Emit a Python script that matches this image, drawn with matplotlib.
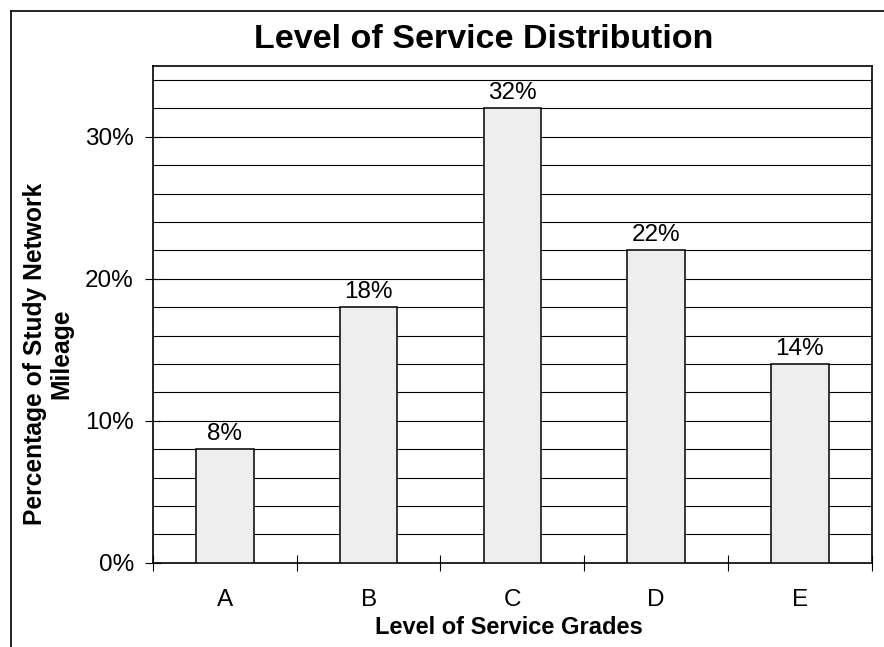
import matplotlib
matplotlib.use("Agg")
import matplotlib.pyplot as plt
from matplotlib.lines import Line2D
import numpy as np

categories = ["A", "B", "C", "D", "E"]
values = [8, 18, 32, 22, 14]
ytick_vals = [0, 10, 20, 30]
ytick_labels = ["0%", "10%", "20%", "30%"]

plt.rcParams['font.family'] = ['Liberation Sans', 'DejaVu Sans']

W, H = 884, 647
fig = plt.figure(figsize=(W / 100, H / 100), dpi=100)
fig.patch.set_facecolor("white")

def fx(px):
    return px / W

def fy(py):
    return 1 - py / H

ax = fig.add_axes([fx(153), fy(562.7), fx(871.7) - fx(153), fy(65.7) - fy(562.7)])

x = np.arange(len(categories))
ax.set_xlim(-0.5, len(categories) - 0.5)
ax.set_ylim(0, 35)

# gridlines every 2%
for g in range(2, 35, 2):
    ax.axhline(g, color="black", lw=0.8, zorder=1)

bars = ax.bar(x, values, width=0.4, color="#EEEEEE", edgecolor="black", linewidth=1.1, zorder=3)

for xi, v in zip(x, values):
    ax.annotate(f"{v}%", (xi, v), xytext=(0, 3), textcoords="offset points",
                ha="center", va="bottom", fontsize=17.5, zorder=4)

for s in ax.spines.values():
    s.set_linewidth(1.2)
    s.set_color("black")

ax.set_yticks(ytick_vals)
ax.set_yticklabels(ytick_labels, fontsize=17.5)
ax.tick_params(axis="y", direction="inout", length=11.5, width=0.8, pad=8)

ax.set_xticks(np.arange(len(categories) + 1) - 0.5)
ax.set_xticklabels([])
ax.set_xticks(x, minor=True)
ax.set_xticklabels(categories, minor=True, fontsize=17.5)
ax.tick_params(axis="x", which="major", direction="inout", length=11.5, width=0.8)
ax.tick_params(axis="x", which="minor", length=0, pad=19)

fig.text(fx(484), fy(39), "Level of Service Distribution", fontsize=24.5,
         fontweight="bold", ha="center", va="center")
fig.text(fx(509), fy(627), "Level of Service Grades", fontsize=17,
         fontweight="bold", ha="center", va="center")
fig.text(fx(48), fy(354), "Percentage of Study Network\nMileage", fontsize=17.7,
         fontweight="bold", ha="center", va="center", rotation=90,
         multialignment="center", linespacing=1.15)

# outer chart border (extends past right/bottom edge)
fig.add_artist(Line2D([fx(11), 1.01], [fy(11), fy(11)], color="black", lw=1.2,
                      transform=fig.transFigure))
fig.add_artist(Line2D([fx(11), fx(11)], [fy(11), -0.01], color="black", lw=1.2,
                      transform=fig.transFigure))

fig.savefig("out.png", dpi=100)
